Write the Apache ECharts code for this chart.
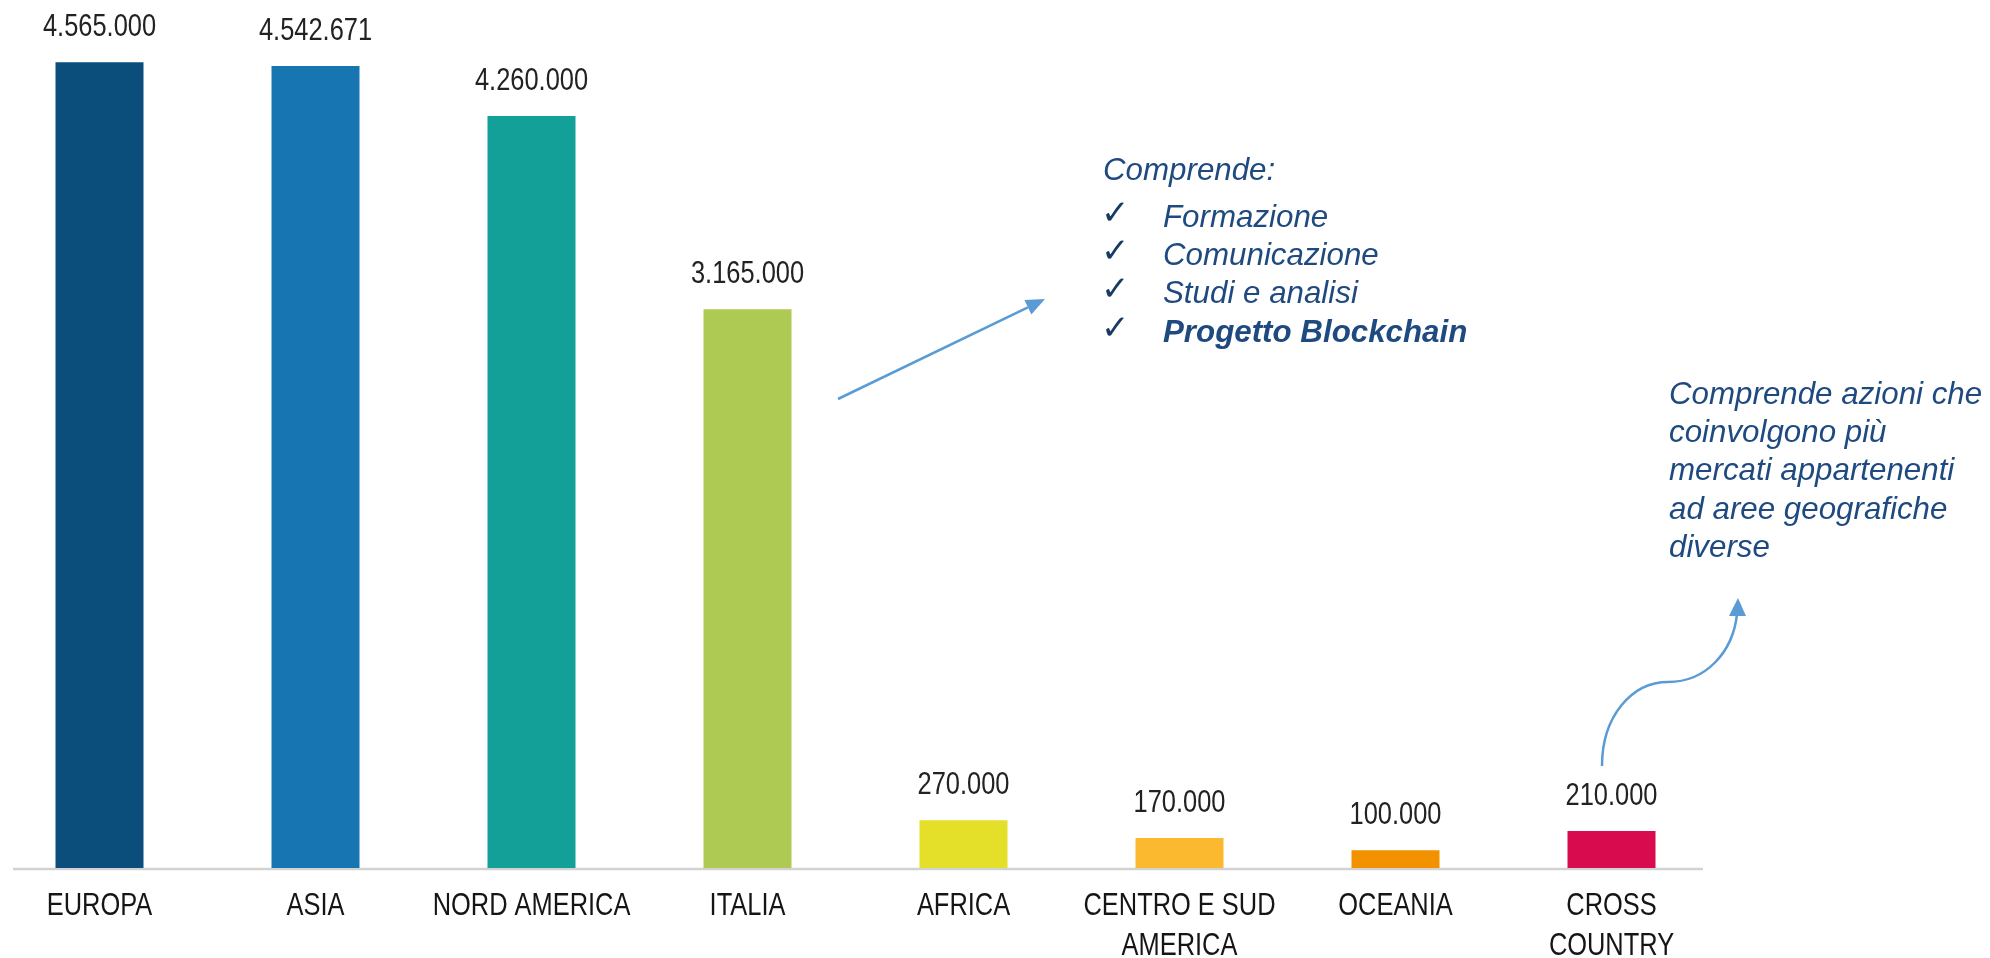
<!DOCTYPE html>
<html>
<head>
<meta charset="utf-8">
<script src="https://cdn.jsdelivr.net/npm/echarts@6/dist/echarts.min.js"></script>
<style>
  html, body { margin: 0; padding: 0; background: #fff; }
  #chart { width: 1990px; height: 958px; }
</style>
</head>
<body>
<div id="chart"></div>
<script>
const categories = ['EUROPA', 'ASIA', 'NORD AMERICA', 'ITALIA', 'AFRICA', 'CENTRO E SUD\nAMERICA', 'OCEANIA', 'CROSS\nCOUNTRY'];
const values = [4565000, 4542671, 4260000, 3165000, 270000, 170000, 100000, 210000];
const barColors = ['#0b4e7b', '#1776b2', '#13a099', '#afca53', '#e4e02a', '#fbb930', '#f39200', '#d90b4f'];

const italiaNote = ['Formazione', 'Comunicazione', 'Studi e analisi', 'Progetto Blockchain'];
const crossNote = ['Comprende azioni che', 'coinvolgono più', 'mercati appartenenti', 'ad aree geografiche', 'diverse'];

const sans = "'Liberation Sans', Arial, sans-serif";
const narrowScale = 0.82; // Arial Narrow look: Liberation Sans squeezed horizontally
const noteBlue = '#1f4a80';
const arrowBlue = '#5b9bd5';

const fmt = v => String(v).replace(/\B(?=(\d{3})+(?!\d))/g, '.');

const chart = echarts.init(document.getElementById('chart'));

// value labels above bars + category names under the axis, condensed
function renderLabels(params, api) {
  const idx = api.value(0);
  const top = api.coord([idx, api.value(1)]);
  const base = api.coord([idx, 0]);
  const children = [{
    type: 'text',
    x: top[0], y: top[1] - 34.5,
    scaleX: narrowScale,
    style: { text: fmt(api.value(1)), fontFamily: sans, fontSize: 31, fill: '#222', align: 'center', verticalAlign: 'middle' }
  }];
  categories[idx].split('\n').forEach((line, k) => {
    children.push({
      type: 'text',
      x: base[0], y: base[1] + 38 + k * 40.5,
      scaleX: narrowScale,
      style: { text: line, fontFamily: sans, fontSize: 31, fill: '#151515', align: 'center', verticalAlign: 'middle' }
    });
  });
  return { type: 'group', children: children };
}

const option = {
  animation: false,
  backgroundColor: '#fff',
  grid: {
    left: -8.5,
    right: 270.5,
    top: 56,
    bottom: 90,
    containLabel: false,
    outerBoundsMode: 'none'
  },
  xAxis: {
    type: 'category',
    data: categories,
    axisLine: { show: false },
    axisTick: { show: false },
    axisLabel: { show: false }
  },
  yAxis: {
    type: 'value',
    min: 0,
    max: 4600000,
    show: false,
    splitLine: { show: false }
  },
  series: [{
    type: 'bar',
    barWidth: 88,
    data: values.map((v, i) => ({ value: v, itemStyle: { color: barColors[i] } }))
  }, {
    type: 'custom',
    silent: true,
    clip: false,
    z: 5,
    data: values.map((v, i) => [i, v]),
    renderItem: renderLabels
  }]
};

chart.setOption(option);

// decorations: baseline, annotations, arrows
const baseY = chart.convertToPixel({ yAxisIndex: 0 }, 0) + 1;
const graphic = [];

graphic.push({
  type: 'line',
  shape: { x1: 13, y1: baseY, x2: 1703, y2: baseY },
  style: { stroke: '#d2d2d2', lineWidth: 2.5 },
  z: 1
});

const textEl = (txt, x, y) => ({
  type: 'text',
  style: {
    text: txt, x: x, y: y,
    fontFamily: sans, fontSize: 31.3, fontStyle: 'italic',
    fill: noteBlue, align: 'left', verticalAlign: 'middle'
  }
});

graphic.push(textEl('Comprende:', 1103, 171));
italiaNote.forEach((t, i) => {
  const base = 229 + i * 38.3;
  graphic.push({
    type: 'text',
    style: { text: '\u2713', x: 1101, y: base - 14, fontFamily: "'DejaVu Sans', sans-serif", fontSize: 34, fill: '#1a3a66', align: 'left', verticalAlign: 'middle' }
  });
  const el = textEl(t, 1163, base - 11);
  if (i === italiaNote.length - 1) el.style.fontWeight = 'bold';
  graphic.push(el);
});

crossNote.forEach((t, i) => {
  graphic.push(textEl(t, 1669, 406 + i * 38.3 - 11));
});

// straight arrow towards the ITALIA note
const ax1 = 838, ay1 = 399, ax2 = 1045, ay2 = 299;
const ang = Math.atan2(ay2 - ay1, ax2 - ax1);
const hl = 19, hw = 8;
const bx = ax2 - hl * Math.cos(ang), by = ay2 - hl * Math.sin(ang);
graphic.push({
  type: 'line',
  shape: { x1: ax1, y1: ay1, x2: bx, y2: by },
  style: { stroke: arrowBlue, lineWidth: 2.5 }
});
graphic.push({
  type: 'polygon',
  shape: { points: [[ax2, ay2], [bx + hw * Math.sin(ang), by - hw * Math.cos(ang)], [bx - hw * Math.sin(ang), by + hw * Math.cos(ang)]] },
  style: { fill: arrowBlue }
});

// curved arrow towards the CROSS COUNTRY note
graphic.push({
  type: 'bezierCurve',
  shape: { x1: 1602, y1: 766, cpx1: 1602, cpy1: 716, cpx2: 1632, cpy2: 682, x2: 1668, y2: 682 },
  style: { stroke: arrowBlue, lineWidth: 2.5, fill: null }
});
graphic.push({
  type: 'bezierCurve',
  shape: { x1: 1668, y1: 682, cpx1: 1706, cpy1: 682, cpx2: 1733, cpy2: 652, x2: 1737, y2: 614 },
  style: { stroke: arrowBlue, lineWidth: 2.5, fill: null }
});
graphic.push({
  type: 'polygon',
  shape: { points: [[1738, 598], [1729, 616], [1746, 616]] },
  style: { fill: arrowBlue }
});

chart.setOption({ graphic: graphic });
</script>
</body>
</html>
